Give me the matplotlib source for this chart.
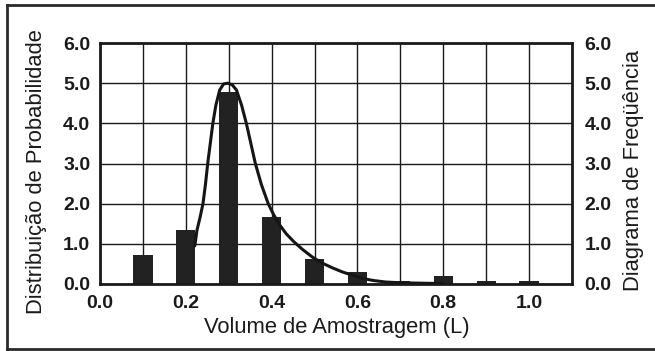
import matplotlib.pyplot as plt
from matplotlib.lines import Line2D

plt.rcParams['font.family'] = ['Liberation Sans', 'DejaVu Sans']

# frequency histogram (bar heights per sample volume)
volumes = [0.1, 0.2, 0.3, 0.4, 0.5, 0.6, 0.7, 0.8, 0.9, 1.0]
frequency = [0.72, 1.34, 4.78, 1.67, 0.62, 0.30, 0.08, 0.20, 0.08, 0.08]

# probability density curve
curve_x = [0.221, 0.226, 0.233, 0.240, 0.246, 0.251, 0.257, 0.263, 0.270,
           0.279, 0.288, 0.298, 0.308, 0.318, 0.330, 0.341, 0.352, 0.362,
           0.376, 0.392, 0.405, 0.418, 0.434, 0.452, 0.472, 0.495, 0.518,
           0.542, 0.565, 0.588, 0.612, 0.635, 0.665, 0.700, 0.750, 0.800]
curve_y = [0.95, 1.34, 1.65, 2.00, 2.50, 3.00, 3.50, 4.00, 4.45,
           4.83, 4.98, 5.00, 4.96, 4.83, 4.45, 4.00, 3.48, 3.00,
           2.48, 2.00, 1.72, 1.48, 1.25, 1.05, 0.86, 0.67, 0.52,
           0.40, 0.30, 0.22, 0.14, 0.09, 0.05, 0.03, 0.02, 0.01]

x_ticks = [0.0, 0.2, 0.4, 0.6, 0.8, 1.0]
y_ticks = [0.0, 1.0, 2.0, 3.0, 4.0, 5.0, 6.0]
y_labels = [f'{v:.1f}' for v in y_ticks]

ink = '#1a1a1a'
tick_size = 14
label_size = 15.8

fig = plt.figure(figsize=(6.55, 3.51), dpi=100)
ax = fig.add_axes([100 / 655, 1 - 284 / 351, 472 / 655, 241 / 351])

ax.set_xlim(0, 1.1)
ax.set_ylim(0, 6)
ax.set_axisbelow(True)

ax.bar(volumes, frequency, width=0.045, color='#222222', zorder=2)
ax.plot(curve_x, curve_y, color='#151515', linewidth=2.2,
        solid_joinstyle='round', solid_capstyle='round', zorder=3)

ax.set_xticks(x_ticks, labels=[f'{v:.1f}' for v in x_ticks])
ax.set_xticks([0.1, 0.3, 0.5, 0.7, 0.9, 1.1], minor=True)
ax.set_yticks(y_ticks, labels=y_labels)
ax.grid(True, which='both', color=ink, linewidth=1.0)
ax.tick_params(which='both', length=0)
ax.tick_params(axis='x', pad=8, labelsize=tick_size)
ax.tick_params(axis='y', pad=7, labelsize=tick_size)
for lab in ax.get_xticklabels() + ax.get_yticklabels():
    lab.set_fontweight('bold')
    lab.set_color(ink)

for sp in ax.spines.values():
    sp.set_linewidth(2)
    sp.set_color(ink)

ax2 = ax.twinx()
ax2.set_ylim(0, 6)
ax2.set_yticks(y_ticks, labels=y_labels)
ax2.tick_params(length=0, pad=9, labelsize=tick_size)
for lab in ax2.get_yticklabels():
    lab.set_fontweight('bold')
    lab.set_color(ink)
for sp in ax2.spines.values():
    sp.set_visible(False)

fig.text(337 / 655, 1 - 327 / 351, 'Volume de Amostragem (L)', ha='center',
         va='center', fontsize=label_size, color=ink)
fig.text(37 / 655, 1 - 172 / 351, 'Distribuição de Probabilidade',
         rotation=90, ha='center', va='center', fontsize=label_size, color=ink)
fig.text(634 / 655, 1 - 170 / 351, 'Diagrama de Freqüência',
         rotation=90, ha='center', va='center', fontsize=label_size, color=ink)

# outer frame: top, left and bottom edges
frame_kw = dict(color='#2a2a2a', linewidth=2, transform=fig.transFigure)
fig.add_artist(Line2D([7 / 655, 1], [1 - 5 / 351, 1 - 5 / 351], **frame_kw))
fig.add_artist(Line2D([7 / 655, 7 / 655], [1 - 5 / 351, 1 - 349 / 351], **frame_kw))
fig.add_artist(Line2D([7 / 655, 1], [1 - 349 / 351, 1 - 349 / 351], **frame_kw))

fig.savefig('out.png', dpi=100)
